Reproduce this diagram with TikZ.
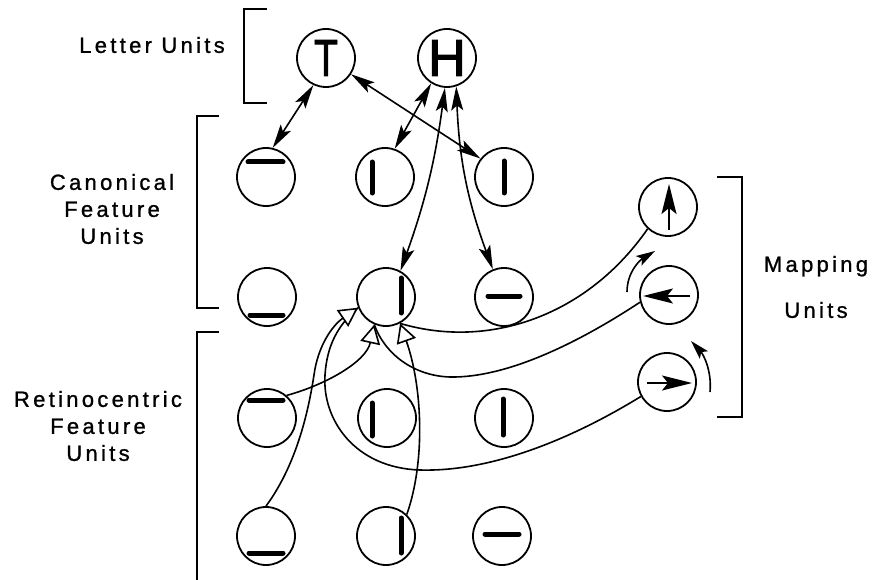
\documentclass[tikz,border=0pt]{standalone}
\usepackage{fontspec}
\usepackage{graphicx}
\setmainfont{Liberation Sans}
\newfontfamily\lblfont[LetterSpace=15,FakeBold=1]{Liberation Sans}
\newfontfamily\bigfont[FakeBold=2]{Liberation Sans}
\usetikzlibrary{arrows.meta}
\begin{document}
\begin{tikzpicture}[x=1pt,y=-1pt,
  unit/.style={circle,draw,line width=1.8pt,minimum size=58pt,inner sep=0pt},
  bar/.style={line width=5pt,line cap=round},
  brk/.style={line width=1.8pt},
  link/.style={line width=1.6pt,{Stealth[length=24pt,width=12pt,inset=5pt]}-{Stealth[length=24pt,width=12pt,inset=5pt]}},
  feed/.style={line width=1.6pt,-{Triangle[open,length=19pt,width=20pt,fill=white]}},
  plainline/.style={line width=1.6pt},
  glyph/.style={line width=2pt,-{Stealth[length=30pt,width=15pt,inset=6pt]}},
  rot/.style={line width=1.6pt,-{Stealth[length=19pt,width=11pt,inset=4pt]}},
  lbl/.style={font=\lblfont\fontsize{22}{27}\selectfont,align=center,inner sep=0pt},
  letter/.style={font=\bigfont\fontsize{52}{52}\selectfont}]
\fill[white] (0,0) rectangle (872,580);
\useasboundingbox (0,0) rectangle (872,580);

% labels
\node[lbl] (lu) at (152,45) {Letter Units};
\node[lbl] (cfu) at (112,209) {Canonical\\Feature\\Units};
\node[lbl] (rfu) at (98,426) {Retinocentric\\Feature\\Units};
\node[lbl,font=\lblfont\fontsize{22}{46}\selectfont] (mu) at (816,287) {Mapping\\Units};

% brackets
\draw[brk] (267,9) -- (244,9) -- (244,103) -- (267,103);
\draw[brk] (219,116) -- (197,116) -- (197,308) -- (219,308);
\draw[brk] (219,332) -- (197,332) -- (197,582);
\draw[brk] (717,177) -- (742,177) -- (742,417) -- (717,417);

% units
\node[unit,letter] (t) at (326,58) {\raisebox{-3pt}{\scalebox{0.75}[1]{T}}};
\node[unit,letter] (h) at (447,58) {\raisebox{-3pt}{H}};
\node[unit] (c11) at (266,177) {};
\node[unit] (c12) at (385,177) {};
\node[unit] (c13) at (504,177) {};
\node[unit] (c21) at (267,297) {};
\node[unit] (c22) at (386,297) {};
\node[unit] (c23) at (504,297) {};
\node[unit] (r11) at (267,418) {};
\node[unit] (r12) at (387,418) {};
\node[unit] (r13) at (504,418) {};
\node[unit] (r21) at (266,536) {};
\node[unit] (r22) at (386,536) {};
\node[unit] (r23) at (502,536) {};
\node[unit] (m1) at (668,207) {};
\node[unit] (m2) at (669,295) {};
\node[unit] (m3) at (667,382) {};

% feature bars
\foreach \n/\ax/\ay/\bx/\by in {
  c11/-18/-15/17/-15, c12/-13/-15/-13/16, c13/0/-16/0/16,
  c21/-17/18/16/18, c22/15/-19/15/16, c23/-16/-1/16/-1,
  r11/-18/-18/16/-18, r12/-15/-15/-15/18, r13/-1/-19/-1/17,
  r21/-17/17/17/17, r22/15/-18/15/17, r23/-17/-2/17/-2}
  \draw[bar] ([shift={(\ax,\ay)}]\n.center) -- ([shift={(\bx,\by)}]\n.center);

% mapping glyphs
\draw[glyph] ([shift={(1,23)}]m1.center) -- ([shift={(1,-23)}]m1.center);
\draw[glyph] ([shift={(21,1)}]m2.center) -- ([shift={(-26,1)}]m2.center);
\draw[glyph] ([shift={(-20,1)}]m3.center) -- ([shift={(25,1)}]m3.center);

% letter <-> canonical links
\draw[link] (t.245) -- (c11.77);
\draw[link] (t.327) -- (c13.142);
\draw[link] (h.238) -- (c12.71);
\draw[link] (h.266) to[bend left=6] (c22.61);
\draw[link] (h.288) to[bend right=9] (c23.112);

% mapping connections (unheaded first)
\draw[plainline] (m3.209) .. controls (570,440) and (490,472) .. (420,470)
  .. controls (355,468) and (322,420) .. (325,375)
  .. controls (327,345) and (338,325) .. (c22.201);
\draw[plainline] (m2.194) .. controls (575,345) and (505,378) .. (450,377)
  .. controls (415,376) and (385,355) .. (c22.247);
\draw[plainline] (m1.227) .. controls (588,315) and (490,350) .. (c22.298);

% retinocentric connections with open heads
\draw[feed] (r21.90) .. controls (300,460) and (310,400) .. (314,375)
  .. controls (318,345) and (333,325) .. (c22.201);
\draw[feed] (r11.49) .. controls (325,385) and (366,362) .. (c22.247);
\draw[feed] (r22.46) .. controls (426,460) and (422,385) .. (c22.298);

% rotation arrows
\coordinate (ra1) at (627,292);
\coordinate (ra2) at (655,251);
\draw[rot] (ra1) .. controls (627,272) and (640,260) .. (ra2);
\coordinate (rb1) at (710,392);
\coordinate (rb2) at (691,341);
\draw[rot] (rb1) .. controls (712,370) and (703,354) .. (rb2);
\end{tikzpicture}
\end{document}
